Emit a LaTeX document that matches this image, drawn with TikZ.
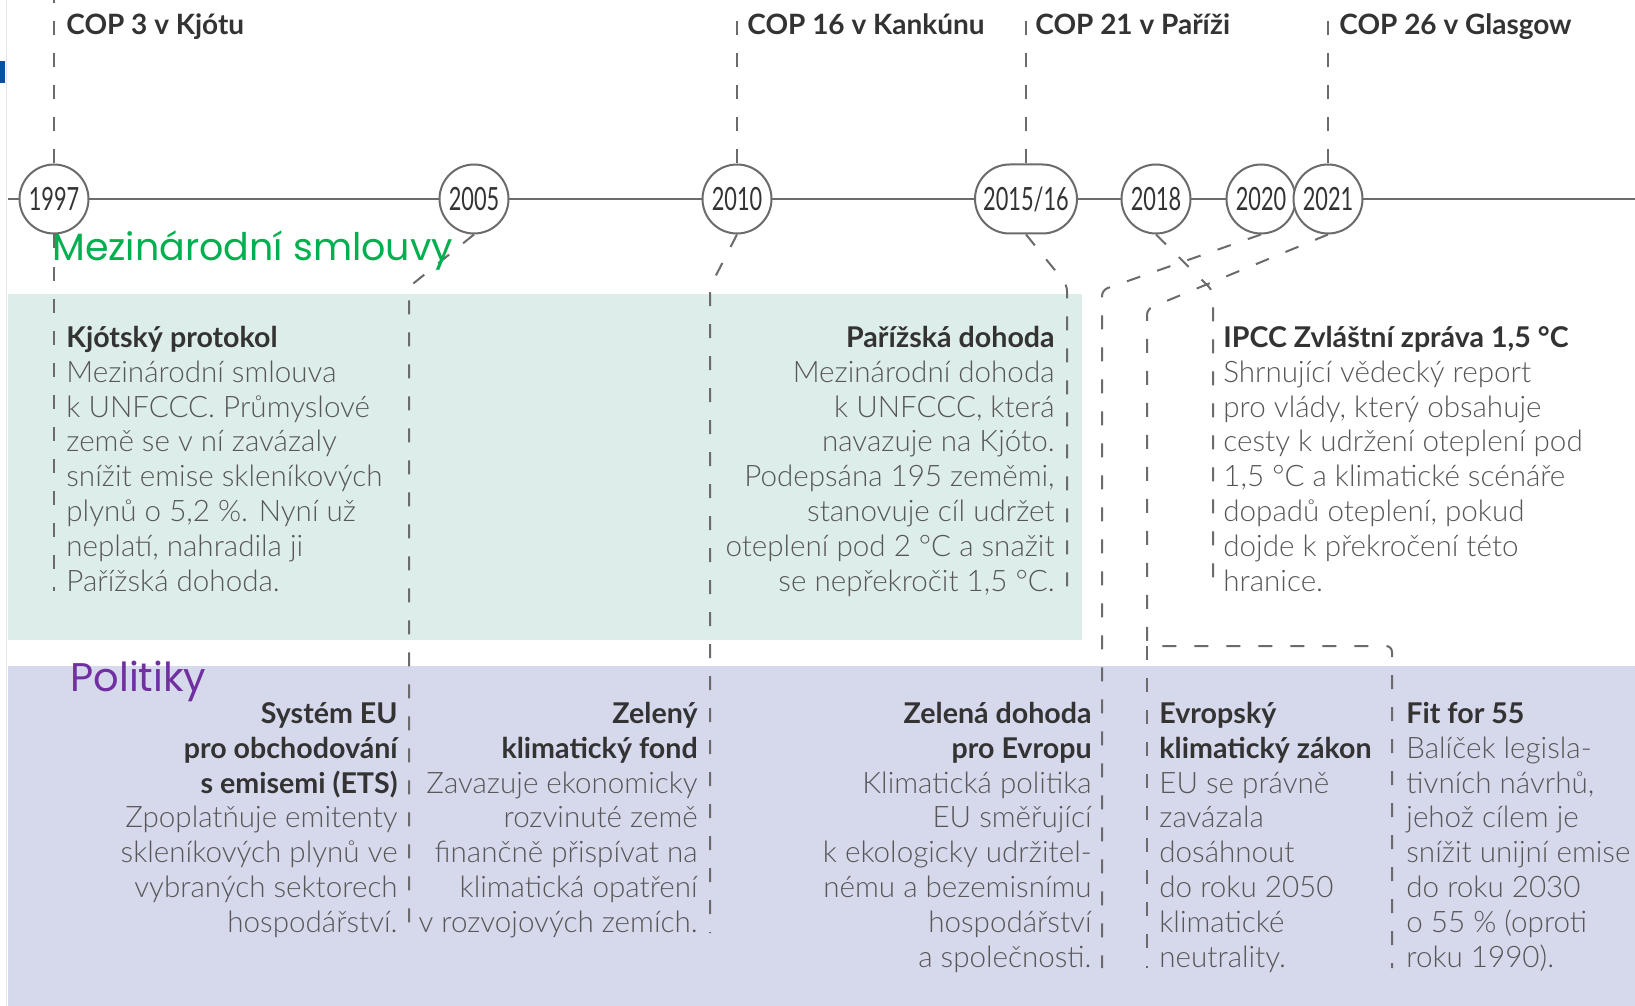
\documentclass[tikz,border=0pt]{standalone}
\usepackage{fontspec}
\usetikzlibrary{shapes.misc}
\IfFontExistsTF{Lato Light}{\newfontfamily\bodyfont{Lato Light}}{\newfontfamily\bodyfont{Lato}}
\newfontfamily\latofont{Lato}
\newfontfamily\yearfont[FakeStretch=0.68]{Lato}
\newfontfamily\headfont{Poppins}
\definecolor{linegray}{HTML}{6B6B6B}
\definecolor{darktext}{HTML}{333333}
\definecolor{bodygray}{HTML}{575757}
\definecolor{greenbg}{HTML}{DDEDE9}
\definecolor{purplebg}{HTML}{D6D8EC}
\definecolor{bluemark}{HTML}{0B4EA2}
\definecolor{headgreen}{HTML}{00B050}
\definecolor{headpurple}{HTML}{7030A0}
\newcommand\ttl[1]{{\latofont\bfseries\fontsize{14.3}{17.4}\selectfont\color{darktext}#1}}
\newcommand\fstl{\rule{0pt}{15pt}}
\begin{document}
\begin{tikzpicture}[x=0.5pt,y=-0.5pt,
  yr/.style={circle,draw=linegray,line width=1pt,fill=white,minimum size=34.5pt,inner sep=0pt,
    font=\yearfont\fontsize{16}{16}\selectfont,text=darktext},
  yrwide/.style={rounded rectangle,draw=linegray,line width=1pt,fill=white,minimum width=51pt,
    minimum height=34.5pt,inner sep=0pt,font=\yearfont\fontsize{16}{16}\selectfont,text=darktext},
  conn/.style={draw=linegray,line width=1pt,dash pattern=on 7pt off 9pt,rounded corners=3pt},
  tl/.style={draw=linegray,line width=1pt},
  cop/.style={anchor=base west,inner sep=0pt,font=\latofont\bfseries\fontsize{14}{14}\selectfont,text=darktext},
  blk/.style={inner sep=0pt,font=\bodyfont\fontsize{14.8}{17.4}\selectfont,text=bodygray},
  head/.style={anchor=base west,inner sep=0pt,font=\headfont\fontsize{20}{20}\selectfont}]
\useasboundingbox (0,0) rectangle (1635,1006);
\fill[white] (0,0) rectangle (1635,1006);
\draw[black!10,line width=0.5pt] (6,0) -- (6,1006);
\fill[bluemark] (0,61) rectangle (5,83);
\fill[greenbg] (8,294) rectangle (1082,640);
\fill[purplebg] (8,666) rectangle (1635,1006);
% timeline
\coordinate (tlL) at (8,199);
\coordinate (tlR) at (1635,199);
\draw[tl] (tlL) -- (tlR);
% free ends and bends
\coordinate (t97) at (54,0);
\coordinate (t10) at (737,12);
\coordinate (t15) at (1026,12);
\coordinate (t21) at (1328,12);
\coordinate (e97) at (54,591);
\coordinate (k05) at (409,287); \coordinate (e05) at (409,933);
\coordinate (k10) at (710,287); \coordinate (e10) at (710,933);
\coordinate (k15) at (1067,285); \coordinate (e15) at (1067,591);
\coordinate (k18) at (1213,291); \coordinate (e18) at (1213,591);
\coordinate (k20) at (1102,290); \coordinate (e20) at (1102,968);
\coordinate (k21) at (1147,309); \coordinate (j21) at (1147,646);
\coordinate (r21) at (1392,646); \coordinate (e21a) at (1147,968); \coordinate (e21b) at (1392,968);
% year nodes
\node[yr] (c1997) at (54,199) {1997};
\node[yr] (c2005) at (474,199) {2005};
\node[yr] (c2010) at (737,199) {2010};
\node[yrwide] (c2015) at (1026,199) {2015/16};
\node[yr] (c2018) at (1156,199) {2018};
\node[yr] (c2020) at (1261,199) {2020};
\node[yr] (c2021) at (1328,199) {2021};
% connectors
\draw[conn] (c1997.north) -- (t97);
\draw[conn] (c2010.north) -- (t10);
\draw[conn] (c2015.north) -- (t15);
\draw[conn] (c2021.north) -- (t21);
\draw[conn] (c1997.south) -- (e97);
\draw[conn] (c2005.south) -- (k05) -- (e05);
\draw[conn] (c2010.south) -- (k10) -- (e10);
\draw[conn] (c2015.south) -- (k15) -- (e15);
\draw[conn] (c2018.south) -- (k18) -- (e18);
\draw[conn] (c2020.south) -- (k20) -- (e20);
\draw[conn] (c2021.south) -- (k21) -- (j21) -- (r21) -- (e21b);
\draw[conn] (j21) -- (e21a);
% COP labels
\node[cop] (cop3) at (66,35) {COP 3 v Kjótu};
\node[cop] (cop16) at (747,35) {COP 16 v Kankúnu};
\node[cop] (cop21) at (1035,35) {COP 21 v Paříži};
\node[cop] (cop26) at (1339,35) {COP 26 v Glasgow};
% green row blocks
\node[blk,anchor=north west,align=left] (kjoto) at (66,317) {\fstl\ttl{Kjótský protokol}\\
Mezinárodní smlouva\\ k UNFCCC. Průmyslové\\ země se v ní zavázaly\\ snížit emise skleníkových\\
plynů o 5,2 \%. Nyní už\\ neplatí, nahradila ji\\ Pařížská dohoda.};
\node[blk,anchor=north east,align=right] (pariz) at (1055,317) {\fstl\ttl{Pařížská dohoda}\\
Mezinárodní dohoda\\ k UNFCCC, která\\ navazuje na Kjóto.\\ Podepsána 195 zeměmi,\\
stanovuje cíl udržet\\ oteplení pod 2 °C a snažit\\ se nepřekročit 1,5 °C.};
\node[blk,anchor=north west,align=left] (ipcc) at (1223,317) {\fstl\ttl{IPCC Zvláštní zpráva 1,5 °C}\\
Shrnující vědecký report\\ pro vlády, který obsahuje\\ cesty k udržení oteplení pod\\
1,5 °C a klimatické scénáře\\ dopadů oteplení, pokud\\ dojde k překročení této\\ hranice.};
% purple row blocks
\node[blk,anchor=north east,align=right] (ets) at (398,693) {\fstl\ttl{Systém EU}\\ \ttl{pro obchodování}\\
\ttl{s emisemi (ETS)}\\ Zpoplatňuje emitenty\\ skleníkových plynů ve\\ vybraných sektorech\\ hospodářství.};
\node[blk,anchor=north east,align=right] (fond) at (698,693) {\fstl\ttl{Zelený}\\ \ttl{klimatický fond}\\
Zavazuje ekonomicky\\ rozvinuté země\\ finančně přispívat na\\ klimatická opatření\\ v rozvojových zemích.};
\node[blk,anchor=north east,align=right] (deal) at (1092,693) {\fstl\ttl{Zelená dohoda}\\ \ttl{pro Evropu}\\
Klimatická politika\\ EU směřující\\ k ekologicky udržitel-\\ nému a bezemisnímu\\ hospodářství\\ a společnosti.};
\node[blk,anchor=north west,align=left] (zakon) at (1159,693) {\fstl\ttl{Evropský}\\ \ttl{klimatický zákon}\\
EU se právně\\ zavázala\\ dosáhnout\\ do roku 2050\\ klimatické\\ neutrality.};
\node[blk,anchor=north west,align=left] (fit) at (1406,693) {\fstl\ttl{Fit for 55}\\
Balíček legisla-\\ tivních návrhů,\\ jehož cílem je\\ snížit unijní emise\\ do roku 2030\\ o 55 \% (oproti\\ roku 1990).};
% headings
\node[head,text=headgreen,font=\headfont\fontsize{19}{19}\selectfont] (hsml) at (52,261) {Mezinárodní smlouvy};
\node[head,text=headpurple] (hpol) at (70,691) {Politiky};
\end{tikzpicture}
\end{document}
